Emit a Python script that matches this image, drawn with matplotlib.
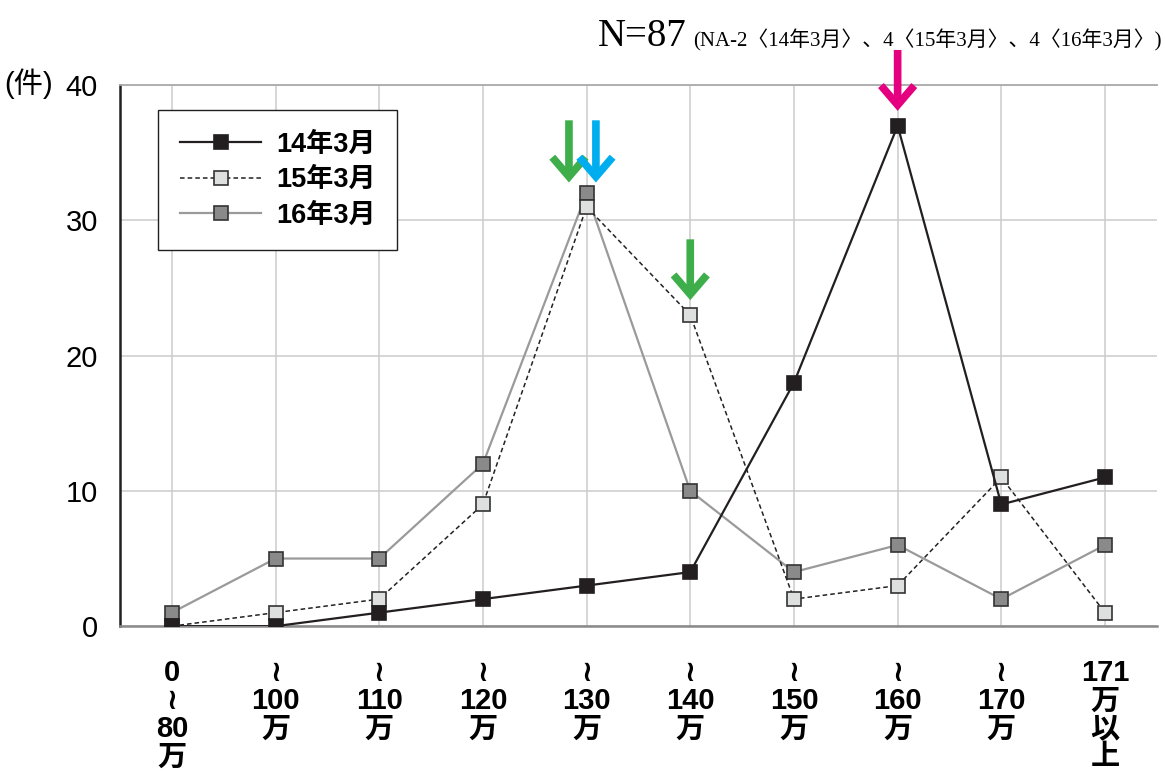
import matplotlib.pyplot as plt

# 価格帯
categories = ["0\n≀\n80\n万", "≀\n100\n万", "≀\n110\n万", "≀\n120\n万", "≀\n130\n万",
              "≀\n140\n万", "≀\n150\n万", "≀\n160\n万", "≀\n170\n万", "171\n万\n以\n上"]
series_names = ["14年3月", "15年3月", "16年3月"]
v14 = [0, 0, 1, 2, 3, 4, 18, 37, 9, 11]
v15 = [0, 1, 2, 9, 31, 23, 2, 3, 11, 1]
v16 = [1, 5, 5, 12, 32, 10, 4, 6, 2, 6]
yticks = [0, 10, 20, 30, 40]

# 矢印 (x位置, 先端, 根元, 色)
arrows = [
    (3.83, 32.8, 37.4, "#3dae49"),
    (4.09, 32.8, 37.4, "#00aeef"),
    (5.0, 24.1, 28.6, "#3dae49"),
    (7.0, 38.1, 42.6, "#e4007f"),
]

cjk = ["Liberation Sans", "Noto Sans CJK JP", "DejaVu Sans"]
plt.rcParams["font.family"] = cjk

fig = plt.figure(figsize=(11.65, 7.74), dpi=100)
ax = fig.add_axes([0.103, 0.191, 0.890, 0.699])

x = list(range(len(categories)))
ax.plot(x, v16, color="#9a9a9a", lw=1.6, marker="s", ms=10, mfc="#8a8a8a", mec="#333333",
        mew=1.2, label=series_names[2], zorder=3)
ax.plot(x, v15, color="#222222", lw=1.1, ls=(0, (3, 2)), marker="s", ms=10, mfc="#dedfdf",
        mec="#333333", mew=1.2, label=series_names[1], zorder=4)
ax.plot(x, v14, color="#231f20", lw=1.6, marker="s", ms=10, mfc="#231f20", mec="#231f20",
        mew=1.2, label=series_names[0], zorder=5)

for ax_x, tip, top, c in arrows:
    ax.annotate("", xy=(ax_x, tip), xytext=(ax_x, top),
                arrowprops=dict(arrowstyle="->,head_length=0.7,head_width=0.6", lw=5.5,
                                color=c, shrinkA=0, shrinkB=0, mutation_scale=20,
                                joinstyle="miter", capstyle="butt", clip_on=False),
                annotation_clip=False, zorder=6)

ax.set_xlim(-0.5, 9.5)
ax.set_ylim(0, 40)
ax.set_yticks(yticks)
ax.set_xticks(x)
ax.set_xticklabels(categories, fontsize=21, fontweight="bold", linespacing=1.0, va="top")
ax.tick_params(axis="x", length=0, pad=24)
ax.tick_params(axis="y", length=0, pad=16, labelsize=21)
ax.grid(True, color="#cccccc", lw=1.1, zorder=0)
ax.set_axisbelow(True)

ax.spines["right"].set_visible(False)
ax.spines["left"].set_color("#231f20")
ax.spines["left"].set_linewidth(1.8)
ax.spines["bottom"].set_color("#8a8a8a")
ax.spines["bottom"].set_linewidth(1.8)
ax.spines["top"].set_color("#aaaaaa")
ax.spines["top"].set_linewidth(1.3)

h, l = ax.get_legend_handles_labels()
leg = ax.legend(h[::-1], l[::-1], loc="upper left", bbox_to_anchor=(0.037, 0.954),
                borderaxespad=0, fancybox=False, edgecolor="#231f20", framealpha=1,
                prop=dict(size=19.5, weight="bold"), handlelength=3.0, labelspacing=0.35,
                borderpad=0.8, handletextpad=0.55)
leg.get_frame().set_linewidth(1.0)

fig.text(0.004, 0.872, "(件)", fontsize=21, ha="left", va="bottom")
fig.text(0.513, 0.94, "N=87", fontsize=28, family=["Liberation Serif", "Noto Sans CJK JP"],
         ha="left", va="baseline")
fig.text(0.997, 0.94, "(NA-2〈14年3月〉、4〈15年3月〉、4〈16年3月〉)", fontsize=15,
         family=["Liberation Serif", "Noto Sans CJK JP"], ha="right", va="baseline")

fig.savefig("out.png", dpi=100)
